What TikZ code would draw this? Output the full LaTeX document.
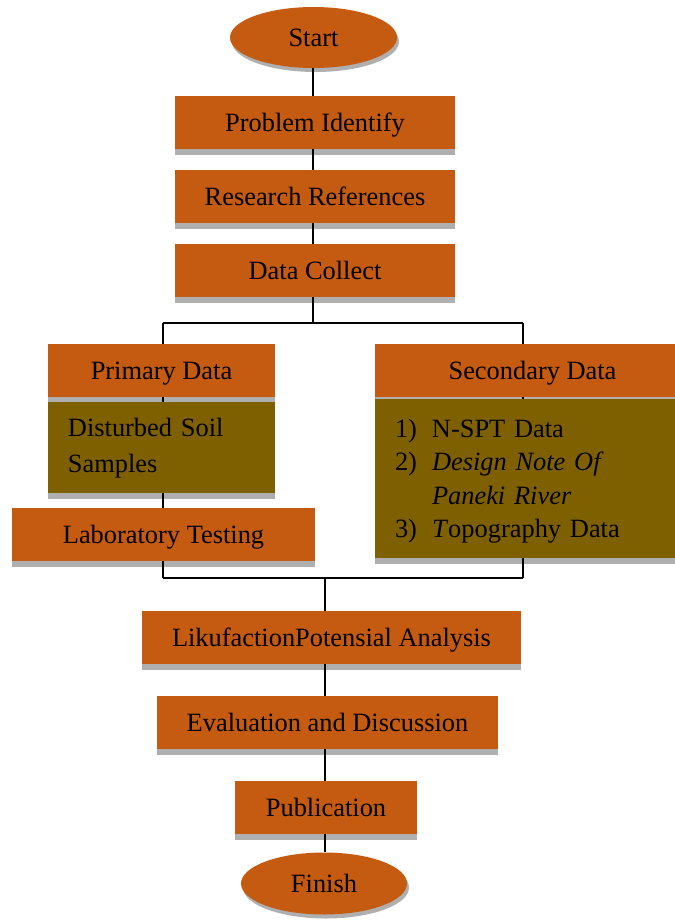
\documentclass[tikz,border=0pt]{standalone}
\usepackage{fontspec}
\setmainfont{Liberation Serif}
\usetikzlibrary{shapes.geometric,shadows}
\definecolor{boxorange}{HTML}{C55A11}
\definecolor{boxolive}{HTML}{7F6000}
\definecolor{shadowgray}{HTML}{AFAFAF}
\begin{document}
\begin{tikzpicture}[x=0.5pt,y=-0.5pt,
  every node/.style={font=\fontsize{13.2}{16}\selectfont},
  boxsh/.style={drop shadow={shadow xshift=0pt,shadow yshift=-2.75pt,fill=shadowgray,opacity=1}},
  stepbox/.style={rectangle,fill=boxorange,inner sep=0pt,minimum height=26.5pt,
    text height=11.8pt,text depth=3pt,boxsh},
  olivebox/.style={rectangle,fill=boxolive,inner xsep=10pt,inner ysep=0pt,align=left,boxsh},
  term/.style={ellipse,fill=boxorange,inner sep=0pt,text height=11.8pt,text depth=3pt,
    drop shadow={shadow xshift=1pt,shadow yshift=-2pt,fill=shadowgray,opacity=1}},
  conn/.style={line width=1pt,black}]
\useasboundingbox (0,0) rectangle (675,923);

\node[term,minimum width=83.5pt,minimum height=30.5pt] (start) at (313.5,37.5) {Start};
\node[stepbox,minimum width=140pt] (pi) at (315,122.5) {Problem Identify};
\node[stepbox,minimum width=140pt] (rr) at (315,196.5) {Research References};
\node[stepbox,minimum width=140pt] (dc) at (315,270.5) {Data Collect};

\node[stepbox,minimum width=113.5pt] (pd) at (161.5,370.5) {Primary Data};
\node[olivebox,text width=93.5pt,minimum height=45.5pt,
  font=\fontsize{13.2}{18}\selectfont] (ds) at (161.5,447.5) {\rule{0pt}{10pt}Disturbed Soil\\Samples};
\node[stepbox,minimum width=151.5pt] (lt) at (163.5,534.5) {Laboratory Testing};

\node[stepbox,minimum width=157.5pt] (sd) at (532.5,370.5) {Secondary Data};
\node[olivebox,text width=137.5pt,minimum height=79.5pt,
  font=\fontsize{13.2}{16.7}\selectfont] (sl) at (532.5,478.5)
  {\rule{0pt}{12pt}\makebox[18.5pt][l]{1)}N-SPT Data\\
   \makebox[18.5pt][l]{2)}\textit{Design Note Of}\\
   \hspace*{18.5pt}\textit{Paneki River}\\
   \makebox[18.5pt][l]{3)}\textit{T}opography Data};

\node[stepbox,minimum width=189.5pt] (la) at (331.5,637.5) {LikufactionPotensial Analysis};
\node[stepbox,minimum width=170.5pt] (ev) at (327.5,722.5) {Evaluation and Discussion};
\node[stepbox,minimum width=91pt] (pb) at (326,807.5) {Publication};
\node[term,minimum width=83pt,minimum height=31pt] (fin) at (324,883.5) {Finish};

\coordinate (j1) at (313,323);
\coordinate (jl) at (163,323);
\coordinate (jr) at (523,323);
\coordinate (kl) at (163,578);
\coordinate (kr) at (523,578);
\coordinate (k1) at (325,578);

\draw[conn] (start.south -| j1) -- (pi.north -| j1);
\draw[conn] (pi.south -| j1) -- (rr.north -| j1);
\draw[conn] (rr.south -| j1) -- (dc.north -| j1);
\draw[conn] (dc.south -| j1) -- (j1);
\draw[conn] (jl) -- (jr);
\draw[conn] (jl) -- (pd.north -| jl);
\draw[conn] (jr) -- (sd.north -| jr);
\draw[conn] (pd.south -| jl) -- (ds.north -| jl);
\draw[conn] (ds.south -| jl) -- (lt.north -| jl);
\draw[conn] (lt.south -| kl) -- (kl);
\draw[conn] (sd.south -| jr) -- (sl.north -| jr);
\draw[conn] (sl.south -| kr) -- (kr);
\draw[conn] (kl) -- (kr);
\draw[conn] (k1) -- (la.north -| k1);
\draw[conn] (la.south -| k1) -- (ev.north -| k1);
\draw[conn] (ev.south -| k1) -- (pb.north -| k1);
\draw[conn] (pb.south -| k1) -- (fin.north -| k1);
\end{tikzpicture}
\end{document}
